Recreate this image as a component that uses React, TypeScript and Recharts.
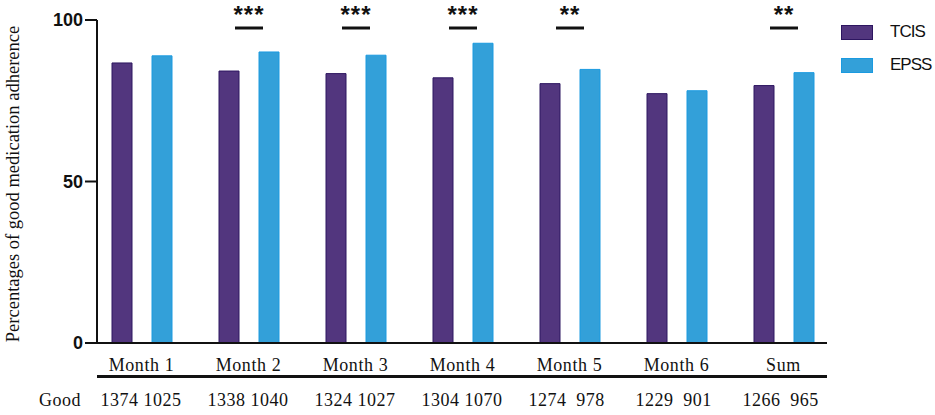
import React from "react";
import { BarChart, Bar, XAxis, YAxis, Legend, LabelList } from "recharts";

type Row = {
  name: string;
  tcis: number;
  epss: number;
  goodTcis: number;
  goodEpss: number;
  sig: string;
};

const months = ["Month 1", "Month 2", "Month 3", "Month 4", "Month 5", "Month 6", "Sum"];
const tcisPct = [86.7, 84.2, 83.4, 82.1, 80.3, 77.2, 79.7];
const epssPct = [88.9, 90.1, 89.1, 92.8, 84.7, 78.1, 83.7];
const goodTcis = [1374, 1338, 1324, 1304, 1274, 1229, 1266];
const goodEpss = [1025, 1040, 1027, 1070, 978, 901, 965];
const sigMarks = ["", "***", "***", "***", "**", "", "**"];
const yTicks = [0, 50, 100];

const data: Row[] = months.map((m, i) => ({
  name: m,
  tcis: tcisPct[i],
  epss: epssPct[i],
  goodTcis: goodTcis[i],
  goodEpss: goodEpss[i],
  sig: sigMarks[i],
}));

const PURPLE = "#52367e";
const PURPLE_EDGE = "#2d1660";
const BLUE = "#33a0d9";
const BLUE_EDGE = "#1a9ae0";
const serif = "'Liberation Serif', 'Times New Roman', serif";
const sans = "'Liberation Sans', Arial, sans-serif";

const MonthTick = (props: any) => {
  const { x, y, payload } = props;
  return (
    <text x={x} y={y + 20} textAnchor="middle" fontFamily={serif} fontSize={18} letterSpacing={0.6} fill="#111">
      {payload.value}
    </text>
  );
};

const GoodTick = (props: any) => {
  const { x, y, index } = props;
  const row = data[index];
  if (!row) return null;
  return (
    <g fontFamily={serif} fontSize={18} fill="#111" letterSpacing={0.5}>
      {index === 0 && (
        <text x={60} y={y + 21} textAnchor="middle">
          Good
        </text>
      )}
      <text x={x - 22} y={y + 21} textAnchor="middle">
        {row.goodTcis}
      </text>
      <text x={x + 21} y={y + 21} textAnchor="middle">
        {row.goodEpss}
      </text>
    </g>
  );
};

// stars + bar drawn above each pair, anchored on the EPSS bar
const SigMark = (props: any) => {
  const { x, value } = props;
  if (!value) return null;
  const cx = x - 10;
  return (
    <g>
      <text x={cx} y={23} textAnchor="middle" fontFamily={sans} fontWeight="bold" fontSize={24} letterSpacing={1} fill="#111">
        {value}
      </text>
      <line x1={cx - 14} x2={cx + 14} y1={28} y2={28} stroke="#111" strokeWidth={3} />
    </g>
  );
};

const LegendBox = () => (
  <div style={{ fontFamily: sans, fontSize: 17, color: "#111", letterSpacing: -1 }}>
    {[
      { label: "TCIS", fill: PURPLE, edge: PURPLE_EDGE },
      { label: "EPSS", fill: BLUE, edge: BLUE_EDGE },
    ].map((it, i) => (
      <div key={it.label} style={{ display: "flex", alignItems: "center", height: 14, marginBottom: i === 0 ? 19 : 0 }}>
        <div style={{ width: 30, height: 13, background: it.fill, border: `1px solid ${it.edge}`, marginRight: 17 }} />
        <span>{it.label}</span>
      </div>
    ))}
  </div>
);

const App: React.FC = () => {
  return (
    <div style={{ position: "absolute", left: 0, top: 0, background: "#fff" }}>
      <BarChart
        width={935}
        height={415}
        data={data}
        margin={{ top: 20, right: 14, bottom: 4, left: 0 }}
        barSize={20}
        barGap={20}
      >
        <XAxis
          dataKey="name"
          height={33}
          padding={{ left: -9, right: -10 }}
          axisLine={{ stroke: "#111", strokeWidth: 2 }}
          tickLine={false}
          tick={<MonthTick />}
          interval={0}
        />
        <XAxis
          xAxisId="good"
          dataKey="name"
          height={34}
          padding={{ left: -9, right: -10 }}
          axisLine={{ stroke: "#111", strokeWidth: 2 }}
          tickLine={false}
          tick={<GoodTick />}
          interval={0}
        />
        <XAxis
          xAxisId="bottom"
          dataKey="name"
          height={1}
          padding={{ left: -9, right: -10 }}
          axisLine={{ stroke: "#111", strokeWidth: 2 }}
          tickLine={false}
          tick={false}
        />
        <YAxis
          width={97}
          domain={[0, 100]}
          ticks={yTicks}
          tickSize={12}
          tickMargin={2}
          axisLine={{ stroke: "#111", strokeWidth: 2 }}
          tickLine={{ stroke: "#111", strokeWidth: 2 }}
          tick={{ fontFamily: sans, fontWeight: "bold", fontSize: 18, fill: "#111" }}
          label={{
            content: () => (
              <text
                x={13}
                y={184}
                transform="rotate(-90 13 184)"
                textAnchor="middle"
                dominantBaseline="central"
                fontFamily={serif}
                fontSize={18.5}
                fill="#111"
              >
                Percentages of good medication adherence
              </text>
            ),
          }}
        />
        <Legend
          layout="vertical"
          verticalAlign="top"
          align="right"
          content={<LegendBox />}
          wrapperStyle={{ top: 25, left: 841, width: 94 }}
        />
        <Bar dataKey="tcis" name="TCIS" fill={PURPLE} stroke={PURPLE_EDGE} strokeWidth={1} isAnimationActive={false} />
        <Bar dataKey="epss" name="EPSS" fill={BLUE} stroke={BLUE_EDGE} strokeWidth={1} isAnimationActive={false}>
          <LabelList dataKey="sig" content={<SigMark />} />
        </Bar>
      </BarChart>
    </div>
  );
};

export default App;
